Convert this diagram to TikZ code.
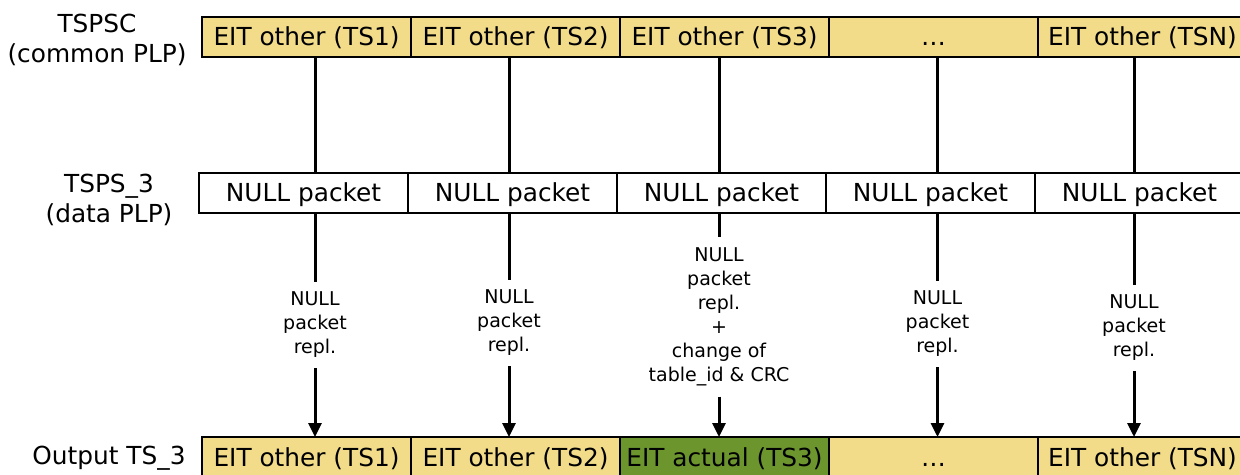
\documentclass[tikz,border=0pt]{standalone}
\usepackage{fontspec}
\setmainfont{DejaVu Sans}
\usetikzlibrary{positioning,arrows.meta}
\definecolor{eityellow}{RGB}{242,220,138}
\definecolor{eitgreen}{RGB}{108,149,46}
\tikzset{
    >={Triangle[length=7pt,width=6.5pt]},
    packet/.style={
        rectangle,
        draw,
        line width=0.75pt,
        outer sep=0pt,
        inner sep=0pt,
        minimum width=104.5pt,
        minimum height=20pt,
        text height=9pt,
        text depth=0pt,
        font=\fontsize{12.4}{15}\selectfont
    },
    eit/.style={
        packet,
        fill=eityellow
    },
    actual/.style={
        packet,
        fill=eitgreen
    },
    nullpkt/.style={
        packet,
        fill=white
    },
    stream/.style={
        align=center,
        font=\fontsize{12.4}{15}\selectfont
    },
    repl/.style={
        align=center,
        inner sep=5pt,
        font=\fontsize{9.5}{12}\selectfont
    },
    link/.style={
        line width=1.5pt
    }
}

\begin{document}
\begin{tikzpicture}[
    x=0.5pt, y=-0.5pt,
    node distance=0pt
]
\useasboundingbox (0,0) rectangle (1240,475);

% Stream names
\node[stream] (tspsc) at (97,40) {TSPSC\\(common PLP)};
\node[stream] (tsps) at (109,200) {TSPS\_3\\(data PLP)};
\node[stream] (output) at (109,458) {Output TS\_3};

% Common PLP
\node[eit, anchor=north west] (top1) at (202,17) {EIT other (TS1)};
\node[eit, right=of top1] (top2) {EIT other (TS2)};
\node[eit, right=of top2] (top3) {EIT other (TS3)};
\node[eit, right=of top3] (top4) {…};
\node[eit, right=of top4] (top5) {EIT other (TSN)};

% Data PLP
\node[nullpkt, anchor=north west] (mid1) at (199,173) {NULL packet};
\node[nullpkt, right=of mid1] (mid2) {NULL packet};
\node[nullpkt, right=of mid2] (mid3) {NULL packet};
\node[nullpkt, right=of mid3] (mid4) {NULL packet};
\node[nullpkt, right=of mid4] (mid5) {NULL packet};

% Output
\node[eit, anchor=north west] (bot1) at (202,437) {EIT other (TS1)};
\node[eit, right=of bot1] (bot2) {EIT other (TS2)};
\node[actual, right=of bot2] (bot3) {EIT actual (TS3)};
\node[eit, right=of bot3] (bot4) {…};
\node[eit, right=of bot4] (bot5) {EIT other (TSN)};

% Replacement steps
\node[repl] (rep1) at (315,325) {NULL\\packet\\repl.};
\node[repl] (rep2) at (509,323) {NULL\\packet\\repl.};
\node[repl] (rep3) at (719,317)
{
NULL\\packet\\repl.\\+\\change of\\table\_id \& CRC
};
\node[repl] (rep4) at (937.5,324) {NULL\\packet\\repl.};
\node[repl] (rep5) at (1134,328) {NULL\\packet\\repl.};

% Column 1
\draw[link] (rep1 |- top1.south) -- (rep1 |- mid1.north);
\draw[link] (rep1 |- mid1.south) -- (rep1.north);
\draw[link, ->] (rep1.south) -- (rep1 |- bot1.north);

% Column 2
\draw[link] (rep2 |- top2.south) -- (rep2 |- mid2.north);
\draw[link] (rep2 |- mid2.south) -- (rep2.north);
\draw[link, ->] (rep2.south) -- (rep2 |- bot2.north);

% Column 3
\draw[link] (rep3 |- top3.south) -- (rep3 |- mid3.north);
\draw[link] (rep3 |- mid3.south) -- (rep3.north);
\draw[link, ->] (rep3.south) -- (rep3 |- bot3.north);

% Column 4
\draw[link] (rep4 |- top4.south) -- (rep4 |- mid4.north);
\draw[link] (rep4 |- mid4.south) -- (rep4.north);
\draw[link, ->] (rep4.south) -- (rep4 |- bot4.north);

% Column 5
\draw[link] (rep5 |- top5.south) -- (rep5 |- mid5.north);
\draw[link] (rep5 |- mid5.south) -- (rep5.north);
\draw[link, ->] (rep5.south) -- (rep5 |- bot5.north);

\end{tikzpicture}
\end{document}
